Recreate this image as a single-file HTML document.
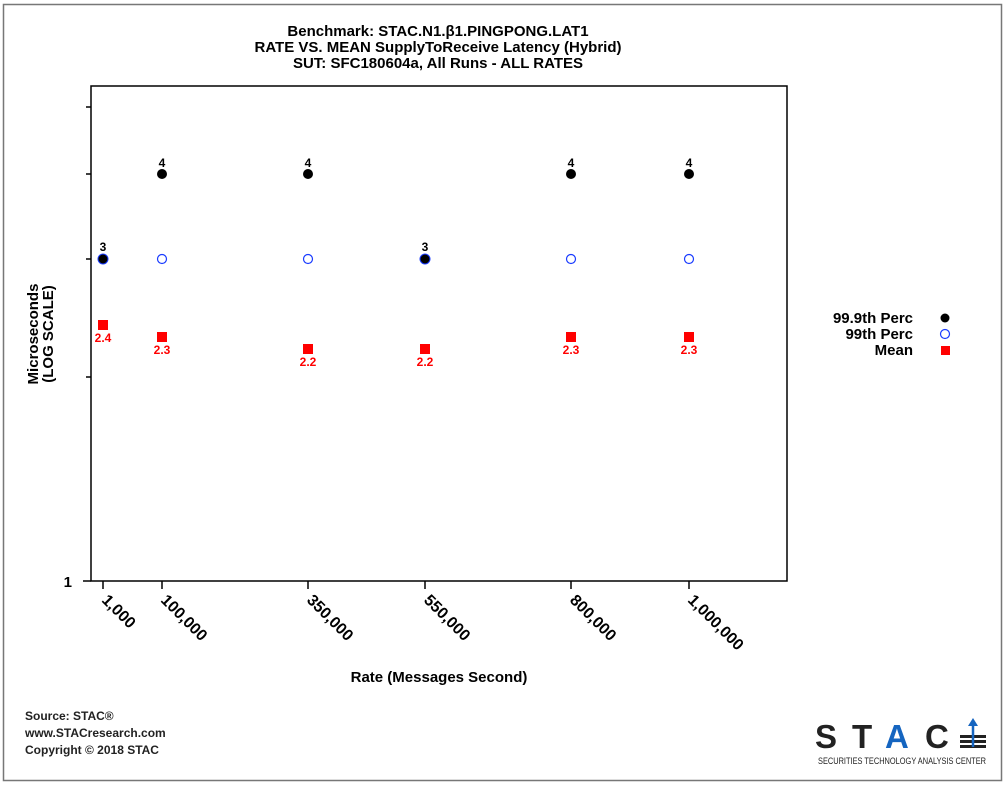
<!DOCTYPE html>
<html><head><meta charset="utf-8"><style>
body{margin:0;background:#fff;}
svg{display:block;}
text{font-family:"Liberation Sans",Arial,sans-serif;}
</style></head><body>
<svg width="1007" height="785" viewBox="0 0 1007 785">
<rect x="3.5" y="4.5" width="998" height="776" fill="#fff" stroke="#777" stroke-width="1.5"/>
<g font-weight="bold" font-size="15" text-anchor="middle" fill="#000">
<text x="438" y="36">Benchmark: STAC.N1.β1.PINGPONG.LAT1</text>
<text x="438" y="52">RATE VS. MEAN SupplyToReceive Latency (Hybrid)</text>
<text x="438" y="68">SUT: SFC180604a, All Runs - ALL RATES</text>
</g>
<rect x="91" y="86" width="696" height="495" fill="none" stroke="#000" stroke-width="1.5"/>
<g stroke="#000" stroke-width="1.5">
<line x1="83" y1="581" x2="91" y2="581"/>
<line x1="86" y1="377" x2="91" y2="377"/>
<line x1="86" y1="259" x2="91" y2="259"/>
<line x1="86" y1="174" x2="91" y2="174"/>
<line x1="86" y1="107" x2="91" y2="107"/>
<line x1="103" y1="581" x2="103" y2="589"/>
<line x1="162" y1="581" x2="162" y2="589"/>
<line x1="308" y1="581" x2="308" y2="589"/>
<line x1="425" y1="581" x2="425" y2="589"/>
<line x1="571" y1="581" x2="571" y2="589"/>
<line x1="689" y1="581" x2="689" y2="589"/>
</g>
<text x="72" y="587" font-size="15" font-weight="bold" text-anchor="end">1</text>
<g font-size="16" font-weight="bold">
<text transform="translate(101,601) rotate(45)">1,000</text>
<text transform="translate(160,601) rotate(45)">100,000</text>
<text transform="translate(306,601) rotate(45)">350,000</text>
<text transform="translate(423,601) rotate(45)">550,000</text>
<text transform="translate(569,601) rotate(45)">800,000</text>
<text transform="translate(687,601) rotate(45)">1,000,000</text>
</g>
<text x="439" y="682" font-size="15" font-weight="bold" text-anchor="middle">Rate (Messages Second)</text>
<g font-size="15" font-weight="bold" text-anchor="middle">
<text transform="translate(38,334) rotate(-90)">Microseconds</text>
<text transform="translate(53,334) rotate(-90)">(LOG SCALE)</text>
</g>
<g fill="#fff" stroke="#1a3cff" stroke-width="1.2">
<circle cx="162" cy="259" r="4.5"/><circle cx="308" cy="259" r="4.5"/>
<circle cx="571" cy="259" r="4.5"/><circle cx="689" cy="259" r="4.5"/>
</g>
<g fill="#000">
<circle cx="103" cy="259" r="5" stroke="#1a3cff" stroke-width="1"/>
<circle cx="425" cy="259" r="5" stroke="#1a3cff" stroke-width="1"/>
<circle cx="162" cy="174" r="5"/><circle cx="308" cy="174" r="5"/>
<circle cx="571" cy="174" r="5"/><circle cx="689" cy="174" r="5"/>
</g>
<g font-size="12" font-weight="bold" text-anchor="middle">
<text x="103" y="251">3</text><text x="425" y="251">3</text>
<text x="162" y="167">4</text><text x="308" y="167">4</text>
<text x="571" y="167">4</text><text x="689" y="167">4</text>
</g>
<g fill="#f00">
<rect x="98" y="320" width="10" height="10"/>
<rect x="157" y="332" width="10" height="10"/>
<rect x="303" y="344" width="10" height="10"/>
<rect x="420" y="344" width="10" height="10"/>
<rect x="566" y="332" width="10" height="10"/>
<rect x="684" y="332" width="10" height="10"/>
</g>
<g font-size="12" font-weight="bold" text-anchor="middle" fill="#f00">
<text x="103" y="342">2.4</text>
<text x="162" y="354">2.3</text>
<text x="308" y="366">2.2</text>
<text x="425" y="366">2.2</text>
<text x="571" y="354">2.3</text>
<text x="689" y="354">2.3</text>
</g>
<g font-size="15" font-weight="bold" text-anchor="end">
<text x="913" y="323">99.9th Perc</text>
<text x="913" y="339">99th Perc</text>
<text x="913" y="355">Mean</text>
</g>
<circle cx="945" cy="318" r="4.5" fill="#000"/>
<circle cx="945" cy="334" r="4.5" fill="#fff" stroke="#1a3cff" stroke-width="1.2"/>
<rect x="941" y="346" width="9" height="9" fill="#f00"/>
<g font-size="12" font-weight="bold" fill="#222">
<text x="25" y="720">Source: STAC®</text>
<text x="25" y="737">www.STACresearch.com</text>
<text x="25" y="754">Copyright © 2018 STAC</text>
</g>
<g font-size="33" font-weight="bold">
<text x="815" y="748" fill="#222">S</text>
<text x="852" y="748" fill="#222">T</text>
<text x="885" y="748" fill="#1565c0">A</text>
<text x="925" y="748" fill="#222">C</text>
</g>
<g fill="#222">
<rect x="960" y="735" width="26" height="3"/>
<rect x="960" y="740" width="26" height="3"/>
<rect x="960" y="745" width="26" height="3"/>
</g>
<line x1="973" y1="722" x2="973" y2="747" stroke="#1565c0" stroke-width="2.5"/>
<polygon points="968,726 973,718 978,726" fill="#1565c0"/>
<text x="818" y="764" font-size="9" fill="#222" textLength="168" lengthAdjust="spacingAndGlyphs">SECURITIES TECHNOLOGY ANALYSIS CENTER</text>
</svg>
</body></html>
